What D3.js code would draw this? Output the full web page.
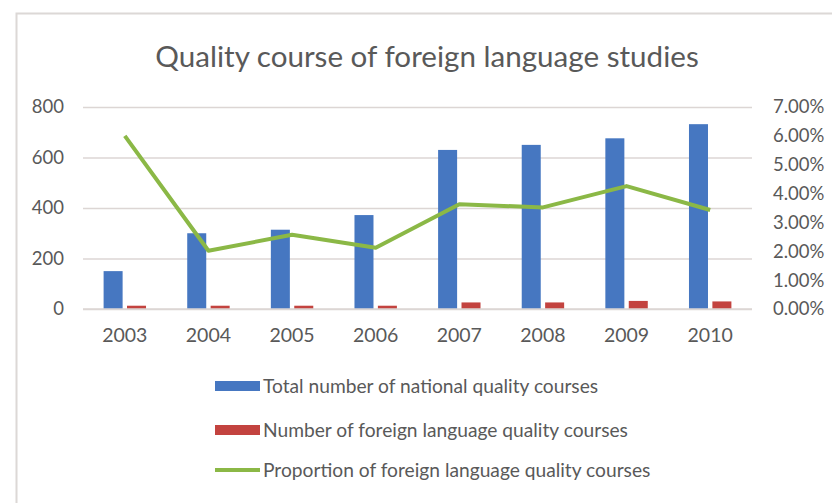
<!DOCTYPE html>
<html>
<head>
<meta charset="utf-8">
<script src="https://cdn.jsdelivr.net/npm/d3@7"></script>
<style>
  html, body { margin: 0; padding: 0; background: #ffffff; }
  svg { display: block; font-family: Lato, "Open Sans", sans-serif; }
</style>
</head>
<body>
<svg id="chart" width="832" height="503"></svg>
<script>
const years = ["2003", "2004", "2005", "2006", "2007", "2008", "2009", "2010"];
const totalCourses = [150, 300, 314, 372, 630, 650, 676, 732];
const foreignCourses = [13, 13, 13, 13, 26, 26, 32, 30];
const proportion = [0.0600, 0.0202, 0.0257, 0.0212, 0.0363, 0.0352, 0.0426, 0.0343];
const leftTicks = [0, 200, 400, 600, 800];
const rightTicks = [0, 0.01, 0.02, 0.03, 0.04, 0.05, 0.06, 0.07];
const seriesNames = [
  "Total number of national quality courses",
  "Number of foreign language quality courses",
  "Proportion of foreign language quality courses"
];
const title = "Quality course of foreign language studies";

const colors = { total: "#4677c1", foreign: "#c3433f", prop: "#8bb846" };
const textColor = "#595959";

const svg = d3.select("#chart");

// outer border
svg.append("rect")
  .attr("x", 16.5).attr("y", 13.5)
  .attr("width", 900).attr("height", 600)
  .attr("fill", "none")
  .attr("stroke", "#dcd8d6").attr("stroke-width", 2);

const plotLeft = 83, plotRight = 752, plotTop = 107, plotBottom = 309;

const x0 = d3.scaleBand().domain(years).range([plotLeft, plotRight]).padding(0);
const x1 = d3.scaleBand().domain(["total", "foreign"]).range([0, x0.bandwidth()])
  .paddingInner(0.188).paddingOuter(0.88);
const yL = d3.scaleLinear().domain([0, 800]).range([plotBottom, plotTop]);
const yR = d3.scaleLinear().domain([0, 0.07]).range([plotBottom, plotTop]);

// title
svg.append("text")
  .attr("x", 427).attr("y", 67)
  .attr("text-anchor", "middle")
  .attr("fill", textColor)
  .style("font-size", "29.6px")
  .text(title);

// gridlines via left axis
const gridAxis = d3.axisLeft(yL).tickValues(leftTicks).tickSize(-(plotRight - plotLeft)).tickFormat("");
const grid = svg.append("g").attr("transform", `translate(${plotLeft},0)`).call(gridAxis);
grid.select(".domain").remove();
grid.selectAll(".tick line").attr("stroke", "#dcd6d4").attr("stroke-width", 1.5);

// left axis labels
const leftAxis = d3.axisLeft(yL).tickValues(leftTicks).tickSize(0).tickPadding(19).tickFormat(d3.format("d"));
const la = svg.append("g").attr("transform", `translate(${plotLeft},0)`).call(leftAxis);
la.select(".domain").remove();
la.selectAll("text").attr("fill", textColor).style("font-size", "18.5px").style("font-family", "Lato, sans-serif");

// right axis labels
const rightAxis = d3.axisRight(yR).tickValues(rightTicks).tickSize(0).tickPadding(21).tickFormat(d3.format(".2%"));
const ra = svg.append("g").attr("transform", `translate(${plotRight},0)`).call(rightAxis);
ra.select(".domain").remove();
ra.selectAll("text").attr("fill", textColor).style("font-size", "18.5px").style("font-family", "Lato, sans-serif");

// bars
const groups = svg.append("g").selectAll("g").data(years).join("g")
  .attr("transform", d => `translate(${x0(d)},0)`);
groups.append("rect")
  .attr("x", x1("total")).attr("width", x1.bandwidth())
  .attr("y", (d, i) => yL(totalCourses[i]))
  .attr("height", (d, i) => plotBottom - yL(totalCourses[i]))
  .attr("fill", colors.total);
groups.append("rect")
  .attr("x", x1("foreign")).attr("width", x1.bandwidth())
  .attr("y", (d, i) => yL(foreignCourses[i]))
  .attr("height", (d, i) => plotBottom - yL(foreignCourses[i]))
  .attr("fill", colors.foreign);

// baseline
svg.append("line")
  .attr("x1", plotLeft).attr("x2", plotRight)
  .attr("y1", plotBottom).attr("y2", plotBottom)
  .attr("stroke", "#dcd6d4").attr("stroke-width", 1.5);

// x axis labels
const xAxis = d3.axisBottom(x0).tickSize(0).tickPadding(19);
const xa = svg.append("g").attr("transform", `translate(0,${plotBottom})`).call(xAxis);
xa.select(".domain").remove();
xa.selectAll("text").attr("fill", textColor).style("font-size", "19.5px").style("font-family", "Lato, sans-serif");

// line
const line = d3.line()
  .x((d, i) => x0(years[i]) + x0.bandwidth() / 2)
  .y(d => yR(d));
svg.append("path")
  .datum(proportion)
  .attr("d", line)
  .attr("fill", "none")
  .attr("stroke", colors.prop)
  .attr("stroke-width", 4)
  .attr("stroke-linejoin", "round");

// legend
const legendY = [386, 430, 470];
const leg = svg.append("g");
seriesNames.forEach((name, i) => {
  const g = leg.append("g").attr("transform", `translate(215,${legendY[i]})`);
  if (i < 2) {
    g.append("rect").attr("x", 0).attr("y", -5).attr("width", 45).attr("height", 10)
      .attr("fill", i === 0 ? colors.total : colors.foreign);
  } else {
    g.append("line").attr("x1", 0).attr("x2", 45).attr("y1", 0).attr("y2", 0)
      .attr("stroke", colors.prop).attr("stroke-width", 4);
  }
  g.append("text").attr("x", 48).attr("y", 0).attr("dy", "0.35em")
    .attr("fill", textColor).style("font-size", "19.2px")
    .text(name);
});
</script>
</body>
</html>
